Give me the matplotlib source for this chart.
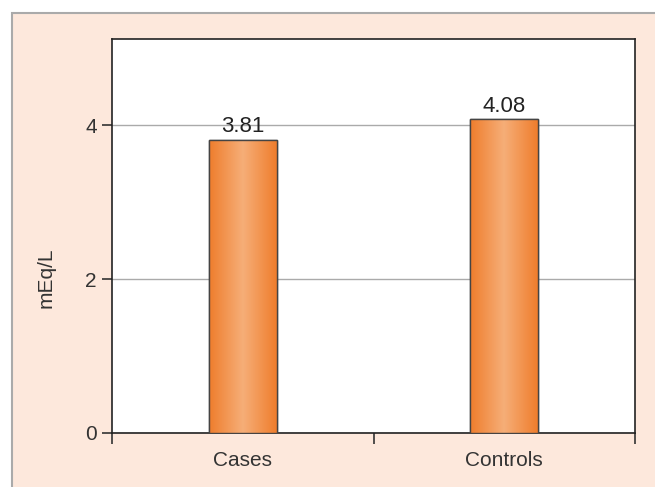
import matplotlib
matplotlib.use("Agg")
import matplotlib.pyplot as plt
import numpy as np
from matplotlib.patches import Rectangle
from matplotlib.colors import LinearSegmentedColormap

categories = ["Cases", "Controls"]
values = [3.81, 4.08]
value_labels = ["3.81", "4.08"]
y_ticks = [0, 2, 4]

plt.rcParams['font.family'] = ['Liberation Sans', 'DejaVu Sans']
fs = 15

W, H = 655, 487
fig = plt.figure(figsize=(W/100, H/100), dpi=100)
fig.patch.set_facecolor('white')
# peach panel with gray border
panel = Rectangle((12/W, -0.05), 1 - 12/W + 0.05, 1 - 13/H + 0.05, transform=fig.transFigure,
                  facecolor='#fde8dc', edgecolor='#aaaaaa', linewidth=1.5, zorder=-10)
fig.patches.append(panel)

ax = fig.add_axes([112/W, 1 - 433/H, (635-112)/W, (433-39)/H])
ax.set_zorder(1)
ax.set_facecolor('white')
x = np.arange(len(categories))
bars = ax.bar(x, values, width=0.26, color='#f28a3c', edgecolor='#444444', linewidth=1.0, zorder=3)

cmap = LinearSegmentedColormap.from_list('og', ['#ef7d2c', '#f6ae78', '#ef7d2c'])
grad = np.linspace(0, 1, 256).reshape(1, -1)
for b in bars:
    bx, by = b.get_x(), b.get_y()
    bw, bh = b.get_width(), b.get_height()
    im = ax.imshow(grad, cmap=cmap, extent=[bx, bx + bw, by, by + bh], aspect='auto', zorder=3.5)
    im.set_clip_path(b)
    edge = Rectangle((bx, by), bw, bh, fill=False, edgecolor='#444444', linewidth=1.0, zorder=4)
    ax.add_patch(edge)

for xi, v, lab in zip(x, values, value_labels):
    ax.text(xi, v + 0.03, lab, ha='center', va='bottom', fontsize=fs + 1, color='#222222', zorder=5)

ax.set_xlim(-0.5, 1.5)
ax.set_ylim(0, 5.12)
ax.set_yticks(y_ticks)
ax.set_yticklabels([str(t) for t in y_ticks], fontsize=fs, color='#333333')
ax.yaxis.grid(True, color='#aaaaaa', linewidth=1.0, zorder=1)
ax.set_axisbelow(True)
ax.set_xticks([-0.5, 0.5, 1.5])
ax.set_xticklabels([])
ax.tick_params(axis='x', length=8, width=1.2, color='#333333', direction='out')
ax.tick_params(axis='y', length=7, width=1.2, color='#333333', direction='out', pad=4)
for xi, c in zip(x, categories):
    ax.text(xi, -0.23, c, ha='center', va='top', fontsize=fs, color='#333333',
            transform=ax.transData)
for s in ax.spines.values():
    s.set_color('#222222')
    s.set_linewidth(1.2)
ax.set_ylabel('mEq/L', fontsize=fs, color='#333333')
ax.yaxis.set_label_coords(-0.108, 0.393)

fig.savefig('out.png', dpi=100, facecolor=fig.get_facecolor())
